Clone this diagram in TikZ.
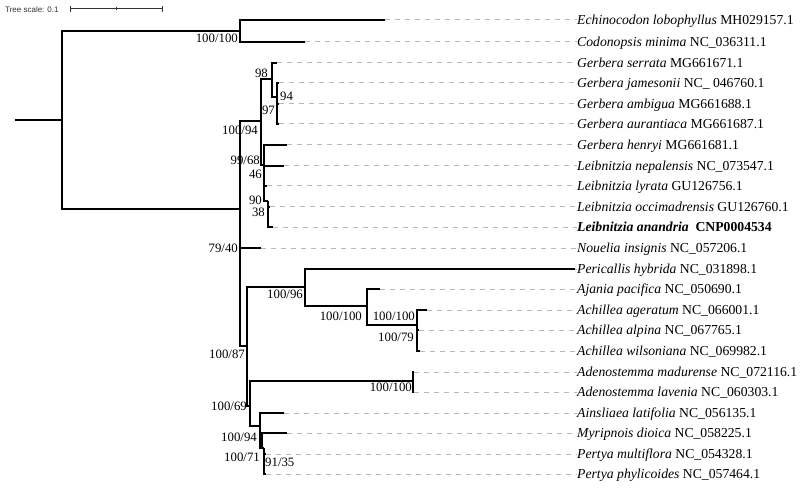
\documentclass[tikz,border=0pt]{standalone}
\usepackage{fontspec}
\setmainfont{Liberation Serif}
\setsansfont{Liberation Sans}
\usepackage{tikz}
\usetikzlibrary{positioning}

\begin{document}
\begin{tikzpicture}[x=1pt, y=-1pt,
    branch/.style={draw, line width=2pt},
    guide/.style={draw, gray!55, line width=1pt, dash pattern=on 5pt off 5pt},
    leaf/.style={font=\fontsize{13.7}{13.7}\selectfont, inner sep=0pt, text height=9.1pt, text depth=0pt, anchor=west},
    bs/.style={font=\fontsize{12.8}{12.8}\selectfont, inner sep=0pt, text height=8.6pt, text depth=0pt, anchor=east},
    bsr/.style={bs, anchor=west},
    scaletxt/.style={font=\sffamily\fontsize{8}{8}\selectfont, text=black!80, inner sep=0pt, anchor=west}]

    \fill[white] (0,0) rectangle (800,489);

    % scale bar
    \node[scaletxt] (scale) at (5,10) {Tree scale: 0.1};
    \coordinate (sbl) at (70,9);
    \coordinate (sbm) at (116,9);
    \coordinate (sbr) at (162,9);
    \draw[line width=1pt, black!80] (sbl) -- (sbr);
    \draw[line width=1pt, black!80] ([yshift=-3pt]sbl) -- ([yshift=3pt]sbl);
    \draw[line width=1pt, black!80] ([yshift=-1.5pt]sbm) -- ([yshift=1.5pt]sbm);
    \draw[line width=1pt, black!80] ([yshift=-3pt]sbr) -- ([yshift=3pt]sbr);

    % leaves: number / row / tip / label
    \foreach \i/\y/\tip/\txt in {
        1/20/385/{\textit{Echinocodon lobophyllus} MH029157.1},
        2/42/305/{\textit{Codonopsis minima} NC\_036311.1},
        3/63/277/{\textit{Gerbera serrata} MG661671.1},
        4/83/279/{\textit{Gerbera jamesonii} NC\_ 046760.1},
        5/104/279/{\textit{Gerbera ambigua} MG661688.1},
        6/124/279/{\textit{Gerbera aurantiaca} MG661687.1},
        7/145/287/{\textit{Gerbera henryi} MG661681.1},
        8/166/284/{\textit{Leibnitzia nepalensis} NC\_073547.1},
        9/186/267/{\textit{Leibnitzia lyrata} GU126756.1},
        10/207/270/{\textit{Leibnitzia occimadrensis} GU126760.1},
        11/227/273/{\textbf{\textit{Leibnitzia anandria}\ \ CNP0004534}},
        12/248/261/{\textit{Nouelia insignis} NC\_057206.1},
        13/269/575/{\textit{Pericallis hybrida} NC\_031898.1},
        14/289/380/{\textit{Ajania pacifica} NC\_050690.1},
        15/310/427/{\textit{Achillea ageratum} NC\_066001.1},
        16/330/419/{\textit{Achillea alpina} NC\_067765.1},
        17/351/420/{\textit{Achillea wilsoniana} NC\_069982.1},
        18/372/414/{\textit{Adenostemma madurense} NC\_072116.1},
        19/392/414/{\textit{Adenostemma lavenia} NC\_060303.1},
        20/413/284/{\textit{Ainsliaea latifolia} NC\_056135.1},
        21/433/287/{\textit{Myripnois dioica} NC\_058225.1},
        22/454/266/{\textit{Pertya multiflora} NC\_054328.1},
        23/474/266/{\textit{Pertya phylicoides} NC\_057464.1}}{
        \node[leaf] (L\i) at (577,\y) {\txt};
        \coordinate (t\i) at (\tip,\y);
        \path[guide] (t\i) -- (L\i.west);
    }

    % internal nodes
    \coordinate (rootend) at (15,120);
    \coordinate (root) at (62,120);
    \coordinate (nA) at (240,31);
    \coordinate (nB) at (240,209);
    \coordinate (nC) at (261,121);
    \coordinate (nD) at (272,79);
    \coordinate (nE) at (277,97);
    \coordinate (nG) at (264,165);
    \coordinate (nH) at (268,201);
    \coordinate (nK) at (247,346);
    \coordinate (nL) at (305,287);
    \coordinate (nM) at (367,306);
    \coordinate (nN) at (417,325);
    \coordinate (nP) at (250,406);
    \coordinate (nQ) at (413,381);
    \coordinate (nR) at (260,426);
    \coordinate (nS) at (262,448);
    \coordinate (nT) at (264,448);

    % branches
    \path[branch] (rootend) -- (root);
    \path[branch] (root) |- (nA);
    \path[branch] (root) |- (nB);
    \path[branch] (nA) |- (t1);
    \path[branch] (nA) |- (t2);
    \path[branch] (nB) |- (nC);
    \path[branch] (nB) |- (t12);
    \path[branch] (nB) |- (nK);
    \path[branch] (nC) |- (nD);
    \path[branch] (nC) |- (nG);
    \path[branch] (nD) |- (t3);
    \path[branch] (nD) |- (nE);
    \path[branch] (nE) |- (t4);
    \path[branch] (nE) |- (t5);
    \path[branch] (nE) |- (t6);
    \path[branch] (nG) |- (t7);
    \path[branch] (nG) |- (t8);
    \path[branch] (nG) |- (t9);
    \path[branch] (nG) |- (nH);
    \path[branch] (nH) |- (t10);
    \path[branch] (nH) |- (t11);
    \path[branch] (nK) |- (nL);
    \path[branch] (nK) |- (nP);
    \path[branch] (nL) |- (t13);
    \path[branch] (nL) |- (nM);
    \path[branch] (nM) |- (t14);
    \path[branch] (nM) |- (nN);
    \path[branch] (nN) |- (t15);
    \path[branch] (nN) |- (t16);
    \path[branch] (nN) |- (t17);
    \path[branch] (nP) |- (nQ);
    \path[branch] (nP) |- (nR);
    \path[branch] (nQ) |- (t18);
    \path[branch] (nQ) |- (t19);
    \path[branch] (nR) |- (t20);
    \path[branch] (nR) |- (nS);
    \path[branch] (nS) |- (t21);
    \path[branch] (nS) -- (nT);
    \path[branch] (nT) |- (t22);
    \path[branch] (nT) |- (t23);

    % support values
    \node[bs] (bA) at (238,38) {100/100};
    \node[bs] (bD) at (268,73) {98};
    \node[bsr] (bE1) at (280,96) {94};
    \node[bs] (bE) at (275,110) {97};
    \node[bs] (bC) at (258,130) {100/94};
    \node[bs] (bG) at (260,160) {99/68};
    \node[bs] (bG2) at (262,174) {46};
    \node[bs] (bH) at (262,200) {90};
    \node[bs] (bH2) at (265,212) {38};
    \node[bs] (bB) at (238,248) {79/40};
    \node[bs] (bL) at (303,294) {100/96};
    \node[bs] (bM) at (362,316) {100/100};
    \node[bs] (bN) at (415,316) {100/100};
    \node[bs] (bN2) at (414,337) {100/79};
    \node[bs] (bK) at (245,354) {100/87};
    \node[bs] (bQ) at (412,387) {100/100};
    \node[bs] (bP) at (247,406) {100/69};
    \node[bs] (bR) at (257,437) {100/94};
    \node[bs] (bS) at (260,457) {100/71};
    \node[bsr] (bT) at (265,462) {91/35};
\end{tikzpicture}
\end{document}
